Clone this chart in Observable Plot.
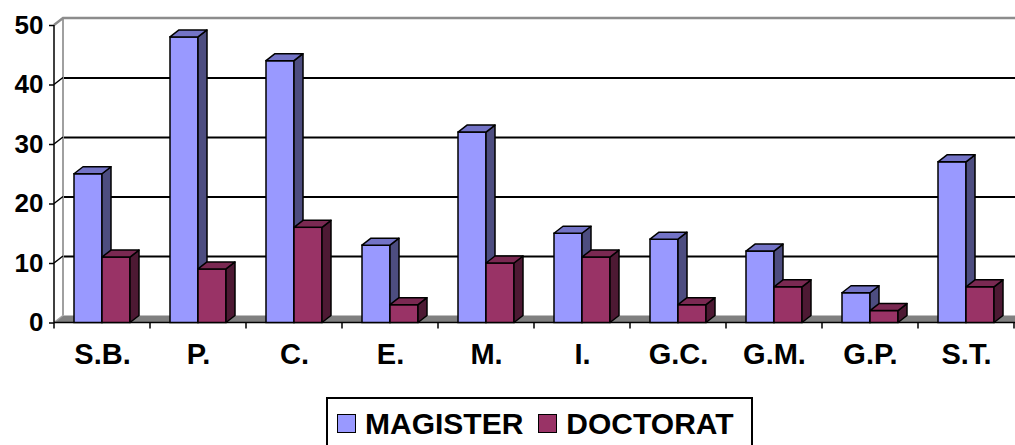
<!DOCTYPE html>
<html>
<head>
<meta charset="utf-8">
<script src="https://cdn.jsdelivr.net/npm/d3@7"></script>
<script src="https://cdn.jsdelivr.net/npm/@observablehq/plot@0.6"></script>
<style>
  html, body { margin: 0; padding: 0; background: #fff; overflow: hidden; }
  body { width: 1015px; height: 445px; font-family: "Liberation Sans", Arial, sans-serif; }
  #legend { position: absolute; left: 326px; top: 397px; width: 427px; height: 52px; box-sizing: border-box;
    border: 2px solid #000; display: flex; align-items: flex-start; padding-left: 9px; padding-top: 13px; }
  .sw { width: 19px; height: 19px; box-sizing: border-box; border: 1.5px solid #000; margin-top: 2px; }
  .lab { font-weight: bold; font-size: 30px; line-height: 24px; margin-left: 9px; margin-right: 15px; color: #000; }
</style>
</head>
<body>
<div id="chart"></div>
<script>
const categories = ["S.B.", "P.", "C.", "E.", "M.", "I.", "G.C.", "G.M.", "G.P.", "S.T."];
const magister = [25, 48, 44, 13, 32, 15, 14, 12, 5, 27];
const doctorat = [11, 9, 16, 3, 10, 11, 3, 6, 2, 6];
const yTicks = [0, 10, 20, 30, 40, 50];
const seriesNames = ["MAGISTER", "DOCTORAT"];
const colors = {
  MAGISTER: {front: "#9999FF", top: "#7373C6", side: "#4D4D80"},
  DOCTORAT: {front: "#993366", top: "#7A2952", side: "#4D1933"}
};

const DX = 9, DY = -7;
const magData = categories.map((c, i) => ({cat: c, value: magister[i]}));
const docData = categories.map((c, i) => ({cat: c, value: doctorat[i]}));

function bw(x) { return x.bandwidth ? x.bandwidth() : 96; }

function walls(index, scales, values, dims) {
  const {x, y} = scales;
  const x0 = dims.marginLeft, x1 = dims.width - dims.marginRight;
  const y0 = y(0), yTop = y(50);
  const g = d3.create("svg:g");
  g.append("path").attr("fill", "#808080")
    .attr("d", `M${x0},${y0}L${x0 + DX},${y0 + DY}L${x1 + DX},${y0 + DY}L${x1},${y0}Z`);
  g.append("line").attr("x1", x0 + DX).attr("x2", x0 + DX).attr("y1", y0 + DY).attr("y2", yTop + DY)
    .attr("stroke", "#a0a0a0").attr("stroke-width", 2);
  g.append("path").attr("fill", "none").attr("stroke", "#8c8c8c").attr("stroke-width", 2.5)
    .attr("d", `M${x0},${yTop}L${x0 + DX},${yTop + DY}L${x1 + DX + 20},${yTop + DY}`);
  yTicks.filter(v => v > 0 && v < 50).forEach(v => {
    g.append("line").attr("x1", x0).attr("y1", y(v)).attr("x2", x0 + DX).attr("y2", y(v) + DY)
      .attr("stroke", "#000").attr("stroke-width", 1.5);
  });
  g.append("line").attr("x1", x0).attr("y1", y0).attr("x2", x0 + DX).attr("y2", y0 + DY)
    .attr("stroke", "#a0a0a0").attr("stroke-width", 1.5);
  g.append("line").attr("x1", x0).attr("x2", x1 + 2).attr("y1", y0).attr("y2", y0)
    .attr("stroke", "#000").attr("stroke-width", 1.5);
  g.append("line").attr("x1", x0).attr("x2", x0).attr("y1", y0).attr("y2", yTop)
    .attr("stroke", "#000").attr("stroke-width", 1.5);
  const bounds = categories.map(c => x(c)).concat([x(categories[categories.length - 1]) + bw(x)]);
  bounds.forEach(b => {
    g.append("line").attr("x1", b).attr("x2", b).attr("y1", y0).attr("y2", y0 + 6)
      .attr("stroke", "#000").attr("stroke-width", 1.5);
  });
  return g.node();
}

function faces(vals, inL, inR, col) {
  return (index, scales) => {
    const {x, y} = scales;
    const g = d3.create("svg:g").attr("stroke", "#000").attr("stroke-width", 1.5).attr("stroke-linejoin", "round");
    categories.forEach((c, i) => {
      const x1 = x(c) + inL, x2 = x(c) + bw(x) - inR, yt = y(vals[i]), yb = y(0);
      g.append("path").attr("fill", col.side)
        .attr("d", `M${x2},${yb}L${x2 + DX},${yb + DY}L${x2 + DX},${yt + DY}L${x2},${yt}Z`);
      g.append("path").attr("fill", col.top)
        .attr("d", `M${x1},${yt}L${x1 + DX},${yt + DY}L${x2 + DX},${yt + DY}L${x2},${yt}Z`);
    });
    return g.node();
  };
}

const chart = Plot.plot({
  width: 1015,
  height: 385,
  marginLeft: 54,
  marginRight: 1,
  marginTop: 25,
  marginBottom: 62.5,
  style: {fontFamily: "Liberation Sans, Arial, sans-serif", background: "#fff", color: "#000"},
  x: {type: "band", domain: categories, padding: 0, label: null},
  y: {domain: [0, 50], label: null},
  marks: [
    Plot.ruleY(yTicks.filter(v => v > 0 && v < 50), {y: d => d, dx: DX, dy: DY, stroke: "#000", strokeWidth: 1.8}),
    walls,
    Plot.axisY({ticks: yTicks, tickSize: 5, tickPadding: 6, fontSize: 26, fontWeight: "bold", label: null, strokeWidth: 1.5}),
    Plot.axisX({tickSize: 0, tickPadding: 20, fontSize: 29, fontWeight: "bold", label: null}),
    Plot.barY(magData, {x: "cat", y: "value", fill: colors.MAGISTER.front, stroke: "#000", strokeWidth: 1.5, insetLeft: 20, insetRight: 48}),
    faces(magister, 20, 48, colors.MAGISTER),
    Plot.barY(docData, {x: "cat", y: "value", fill: colors.DOCTORAT.front, stroke: "#000", strokeWidth: 1.5, insetLeft: 48, insetRight: 20}),
    faces(doctorat, 48, 20, colors.DOCTORAT)
  ]
});
document.getElementById("chart").appendChild(chart);

const legend = document.createElement("div");
legend.id = "legend";
seriesNames.forEach(n => {
  const sw = document.createElement("div");
  sw.className = "sw";
  sw.style.background = colors[n].front;
  const lab = document.createElement("div");
  lab.className = "lab";
  lab.textContent = n;
  legend.appendChild(sw);
  legend.appendChild(lab);
});
document.body.appendChild(legend);
</script>
</body>
</html>
